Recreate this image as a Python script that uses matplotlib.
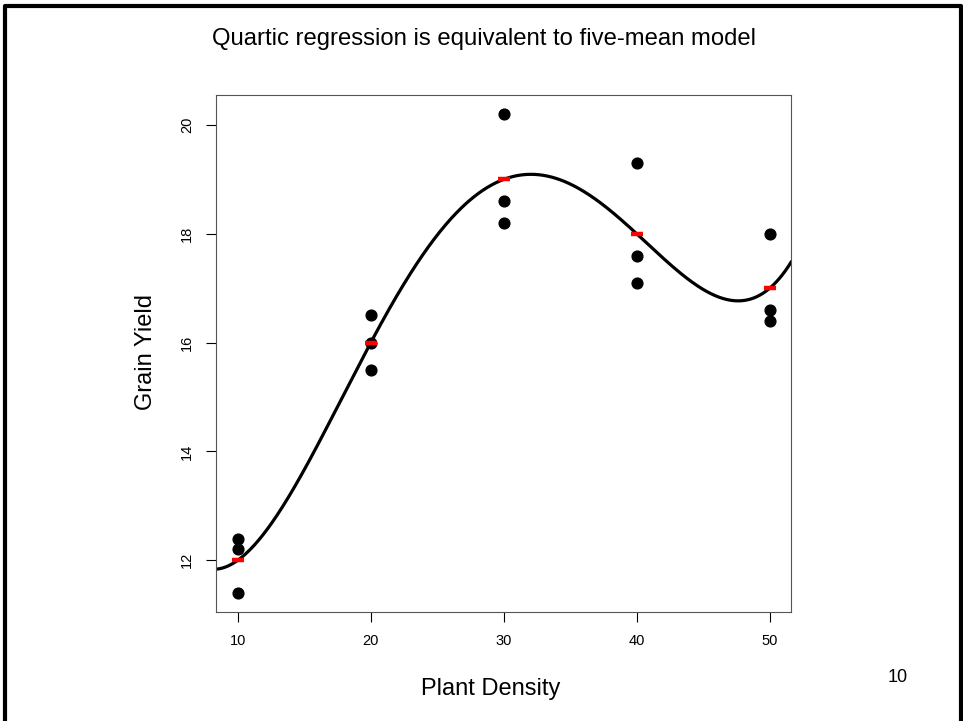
import numpy as np
import matplotlib.pyplot as plt
from matplotlib.lines import Line2D

plt.rcParams['font.family'] = ['Liberation Sans', 'DejaVu Sans']

# observations
density = [10, 10, 10, 20, 20, 20, 30, 30, 30, 40, 40, 40, 50, 50, 50]
yield_obs = [12.4, 12.2, 11.4, 16.5, 16.0, 15.5, 20.2, 18.6, 18.2,
             19.3, 17.6, 17.1, 18.0, 16.6, 16.4]
xticks = [10, 20, 30, 40, 50]
yticks = [12, 14, 16, 18, 20]

x = np.array(density, dtype=float)
y = np.array(yield_obs)
levels = np.unique(x)
means = np.array([y[x == lv].mean() for lv in levels])

# quartic fit
coef = np.polyfit(x, y, 4)
xx = np.linspace(8.4, 51.6, 400)
yy = np.polyval(coef, xx)

fig = plt.figure(figsize=(9.63, 7.21), dpi=100)
ax = fig.add_axes([0.2248, 0.1512, 0.5966, 0.717])

ax.plot(xx, yy, color='black', lw=2.3, zorder=2)
ax.scatter(x, y, s=60, color='black', zorder=3)
ax.hlines(means, levels - 0.45, levels + 0.45, color='red', lw=3.2, zorder=4)

ax.set_xlim(8.4, 51.6)
ax.set_ylim(11.05, 20.55)
ax.set_xticks(xticks)
ax.set_yticks(yticks)
ax.tick_params(axis='both', length=7, width=0.8, labelsize=10.5, pad=9)
for lab in ax.get_yticklabels():
    lab.set_rotation(90)
    lab.set_va('center')
for sp in ax.spines.values():
    sp.set_linewidth(0.8)
    sp.set_color('#555555')

fig.text(0.503, 0.946, 'Quartic regression is equivalent to five-mean model',
         ha='center', va='center', fontsize=17.2)
fig.text(0.152, 0.512, 'Grain Yield', rotation=90, ha='center', va='center', fontsize=17)
fig.text(0.51, 0.045, 'Plant Density', ha='center', va='center', fontsize=17)
fig.text(0.932, 0.061, '10', ha='center', va='center', fontsize=13)

# slide frame (open at the bottom)
W, H = 963, 721
frame_x = [5, 5, 961, 961]
frame_y = [721, 5.5, 5.5, 721]
fig.add_artist(Line2D([v / W for v in frame_x], [1 - v / H for v in frame_y],
                      color='black', lw=3, transform=fig.transFigure))

fig.savefig('out.png', dpi=100)
